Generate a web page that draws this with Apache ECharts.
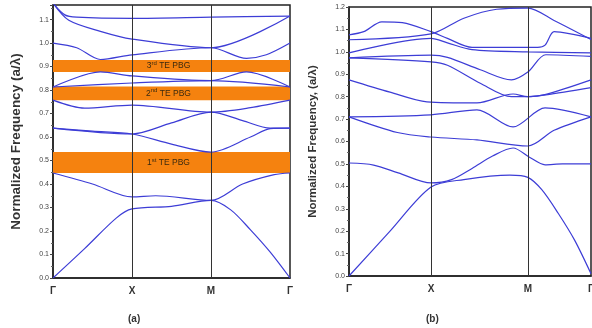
<!DOCTYPE html>
<html>
<head>
<meta charset="utf-8">
<script src="https://cdn.jsdelivr.net/npm/echarts@6/dist/echarts.min.js"></script>
<style>
  html, body { margin: 0; padding: 0; background: #fff; }
  #chart { width: 592px; height: 328px; }
</style>
</head>
<body>
<div id="chart"></div>
<script>
// k-path positions: Γ, X, M, Γ
const kLabels = ["Γ", "X", "M", "Γ"];
const kTicksA = [0, 1, 2, 3];
const kTicksB = [0, 1, 2.18, 2.95];

// (a) bands: [k, normalized frequency]
const a1 = [[0, 0], [0.4, 0.125], [0.8, 0.255], [1, 0.294], [1.5, 0.305], [2, 0.33], [2.25, 0.29], [2.5, 0.205], [2.75, 0.11], [3, 0]];
const a2 = [[0, 0.447], [0.5, 0.4], [1, 0.345], [1.3, 0.35], [2, 0.33], [2.4, 0.4], [2.8, 0.44], [3, 0.447]];
const a3 = [[0, 0.638], [0.5, 0.625], [1, 0.613], [1.5, 0.57], [2, 0.536], [2.5, 0.6], [2.75, 0.636], [3, 0.638]];
const a4 = [[0, 0.638], [1, 0.613], [1.5, 0.66], [2, 0.706], [2.4, 0.67], [2.75, 0.638], [3, 0.638]];
const a5 = [[0, 0.757], [0.4, 0.723], [1, 0.736], [2, 0.706], [2.5, 0.725], [3, 0.757]];
const a6 = [[0, 0.813], [0.6, 0.877], [1, 0.86], [2, 0.84], [2.45, 0.877], [3, 0.813]];
const a7 = [[0, 0.813], [1, 0.83], [2, 0.84], [3, 0.813]];
const a8 = [[0, 1.0], [0.3, 0.98], [0.6, 0.93], [1, 0.95], [2, 0.98], [2.45, 0.935], [2.7, 0.95], [3, 1.0]];
const a9 = [[0, 1.17], [0.2, 1.097], [0.6, 1.05], [1, 1.017], [2, 0.98], [3, 1.115]];
const a10 = [[0, 1.17], [0.15, 1.12], [0.3, 1.11], [1, 1.105], [2, 1.11], [3, 1.115]];

// photonic band gaps in (a): [low, high]
const gap1 = [0.447, 0.536];
const gap2 = [0.757, 0.815];
const gap3 = [0.877, 0.928];

// (b) bands
const b1 = [[0, 0], [0.5, 0.2], [1, 0.397], [1.4, 0.43], [1.96, 0.45], [2.18, 0.44], [2.35, 0.385], [2.55, 0.28], [2.75, 0.16], [2.95, 0.01]];
const b2 = [[0, 0.504], [0.3, 0.495], [0.6, 0.46], [1, 0.415], [1.25, 0.43], [1.5, 0.48], [1.75, 0.535], [2.0, 0.571], [2.2, 0.53], [2.39, 0.496], [2.6, 0.5], [2.95, 0.5]];
const b3 = [[0, 0.71], [0.59, 0.64], [1, 0.62], [1.56, 0.607], [2.18, 0.58], [2.5, 0.65], [2.95, 0.71]];
const b4 = [[0, 0.71], [1, 0.719], [1.56, 0.741], [2.0, 0.665], [2.39, 0.75], [2.95, 0.71]];
const b5 = [[0, 0.875], [0.5, 0.82], [0.95, 0.777], [1.56, 0.772], [2.0, 0.812], [2.18, 0.8], [2.4, 0.808], [2.95, 0.84]];
const b6 = [[0, 0.973], [1, 0.955], [1.2, 0.94], [1.6, 0.86], [1.98, 0.8], [2.18, 0.8], [2.4, 0.81], [2.95, 0.875]];
const b7 = [[0, 0.973], [1, 0.985], [1.2, 0.975], [1.6, 0.92], [1.98, 0.875], [2.18, 0.91], [2.4, 0.987], [2.95, 0.98]];
const b8 = [[0, 0.995], [1, 1.06], [1.2, 1.04], [1.5, 1.01], [2.18, 1.0], [2.95, 0.995]];
const b9 = [[0, 1.076], [0.18, 1.09], [0.4, 1.134], [0.65, 1.13], [1, 1.09], [1.2, 1.06], [1.5, 1.02], [2.3, 1.02], [2.39, 1.03], [2.5, 1.09], [2.7, 1.08], [2.95, 1.06]];
const b10 = [[0, 1.054], [1, 1.08], [1.4, 1.15], [1.8, 1.19], [2.18, 1.195], [2.5, 1.14], [2.95, 1.055]];

const bandsA = [a1, a2, a3, a4, a5, a6, a7, a8, a9, a10];
const bandsB = [b1, b2, b3, b4, b5, b6, b7, b8, b9, b10];

const lineColor = "#3d3dd6";
const font = "Liberation Sans, Arial, sans-serif";

function bandSeries(data, idx) {
  return {
    type: "line",
    data: data,
    xAxisIndex: idx,
    yAxisIndex: idx,
    showSymbol: false,
    smooth: 0.3,
    lineStyle: { color: lineColor, width: 1.2 },
    silent: true,
    z: 3,
  };
}

function yAxis(idx, max, name, nameSize, nameGap) {
  return {
    type: "value",
    gridIndex: idx,
    min: 0,
    max: max,
    interval: 0.1,
    name: name,
    nameLocation: "middle",
    nameGap: nameGap,
    nameTextStyle: { fontFamily: font, fontWeight: "bold", fontSize: nameSize, color: "#333" },
    axisLine: { show: true, lineStyle: { color: "#222", width: 1.5 } },
    axisTick: { show: true, length: 3, lineStyle: { color: "#444" } },
    minorTick: { show: true, splitNumber: 2, length: 2, lineStyle: { color: "#666" } },
    axisLabel: {
      fontFamily: font, fontSize: 7, color: "#444", margin: 4,
      showMaxLabel: max > 1.19,
      formatter: (v) => v.toFixed(1),
    },
    splitLine: { show: false },
  };
}

function xAxis(idx, max, ticks) {
  return {
    type: "value",
    gridIndex: idx,
    min: 0,
    max: max,
    axisLine: { show: true, lineStyle: { color: "#222", width: 1.5 } },
    axisTick: { show: false },
    splitLine: { show: false },
    axisLabel: {
      customValues: ticks,
      fontFamily: font, fontSize: 10, fontWeight: "bold", color: "#333", margin: 8,
      formatter: (v) => kLabels[ticks.indexOf(v)] ?? "",
    },
  };
}

function gapLabel(n, sup) {
  return "{n|" + n + "}{s|" + sup + "}{n| TE PBG}";
}

const gapRich = {
  n: { fontFamily: font, fontSize: 8.5, color: "#3a2a10" },
  s: { fontFamily: font, fontSize: 6, color: "#3a2a10", verticalAlign: "top", padding: [0, 0, 5, 0] },
};

const seriesA = bandsA.map((d) => bandSeries(d, 0));
seriesA[0].markArea = {
  silent: true,
  itemStyle: { color: "#f5820f", opacity: 1 },
  label: { show: true, position: "inside", offset: [-3, 0], rich: gapRich },
  data: [
    [{ yAxis: gap1[0], name: gapLabel(1, "st") }, { yAxis: gap1[1] }],
    [{ yAxis: gap2[0], name: gapLabel(2, "nd") }, { yAxis: gap2[1] }],
    [{ yAxis: gap3[0], name: gapLabel(3, "rd") }, { yAxis: gap3[1] }],
  ],
};
seriesA[1].markLine = {
  silent: true, symbol: "none", label: { show: false },
  lineStyle: { color: "#333", width: 1, type: "solid" },
  data: [{ xAxis: kTicksA[1] }, { xAxis: kTicksA[2] }],
};

const seriesB = bandsB.map((d) => bandSeries(d, 1));
seriesB[0].markLine = {
  silent: true, symbol: "none", label: { show: false },
  lineStyle: { color: "#333", width: 1, type: "solid" },
  data: [{ xAxis: kTicksB[1] }, { xAxis: kTicksB[2] }],
};

const chart = echarts.init(document.getElementById("chart"), null, { renderer: "canvas" });
chart.setOption({
  animation: false,
  backgroundColor: "#fff",
  title: [
    { text: "(a)", left: 123, top: 309, textStyle: { fontFamily: font, fontSize: 10, fontWeight: "bold", color: "#333" } },
    { text: "(b)", left: 421, top: 309, textStyle: { fontFamily: font, fontSize: 10, fontWeight: "bold", color: "#333" } },
  ],
  grid: [
    { left: 53, right: 302, top: 5, bottom: 50, show: true, borderColor: "#222", borderWidth: 1.5, outerBoundsMode: "none" },
    { left: 349, right: 1, top: 7, bottom: 52, show: true, borderColor: "#222", borderWidth: 1.5, outerBoundsMode: "none" },
  ],
  xAxis: [xAxis(0, 3, kTicksA), xAxis(1, 2.95, kTicksB)],
  yAxis: [
    yAxis(0, 1.162, "Normalized Frequency (a/λ)", 13.5, 30),
    yAxis(1, 1.2, "Normalized Frequency, (a/λ)", 11.5, 30),
  ],
  series: seriesA.concat(seriesB),
});
</script>
</body>
</html>
